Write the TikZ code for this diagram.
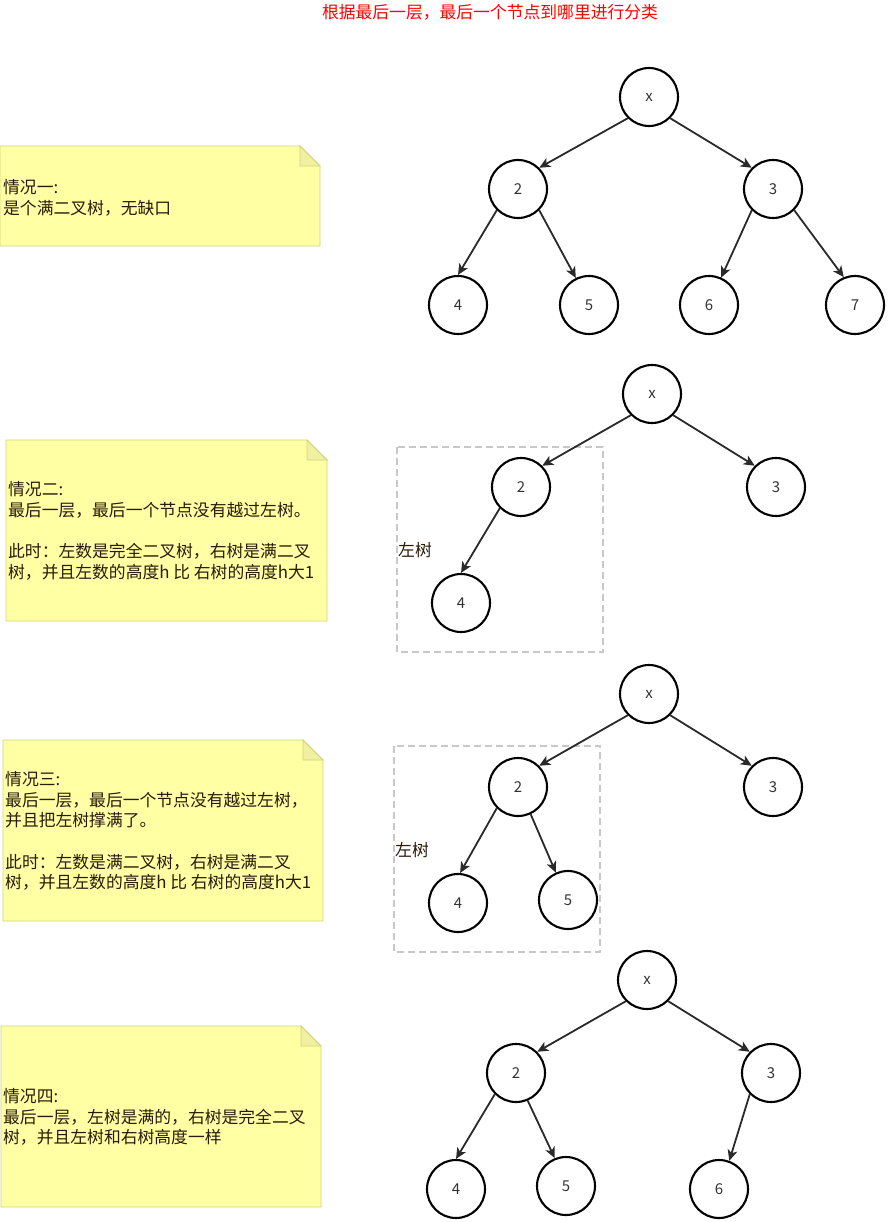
\documentclass[tikz,border=0pt]{standalone}
\usepackage{fontspec}
\setmainfont{Noto Sans CJK SC}
\usetikzlibrary{arrows.meta}

\definecolor{edgegray}{HTML}{2A2A2A}
\definecolor{labelgray}{HTML}{333333}
\definecolor{boxgray}{HTML}{C8C8C8}
\definecolor{notebg}{HTML}{FFFFA3}
\definecolor{noteline}{HTML}{D2D27E}
\definecolor{notefoldbg}{HTML}{F0F0A0}
\definecolor{notetextcol}{HTML}{2A1A0A}
\definecolor{titlered}{HTML}{FF0000}

% sticky note with a folded top-right corner: x1, y1, x2, y2
\newcommand\stickynote[4]{%
  \draw[fill=notebg, draw=noteline, line width=0.9pt]
    (#1,#2) -- (#3-20,#2) -- (#3,#2+20) -- (#3,#4) -- (#1,#4) -- cycle;
  \draw[fill=notefoldbg, draw=noteline, line width=0.9pt]
    (#3-20,#2) -- (#3-20,#2+20) -- (#3,#2+20) -- cycle;
}

\begin{document}
\begin{tikzpicture}[x=1pt, y=-1pt,
  tnode/.style={circle, draw=black, line width=2.1pt, minimum size=58pt,
    inner sep=0pt, font=\fontsize{15}{15}\selectfont, text=labelgray},
  link/.style={draw=edgegray, line width=1.8pt,
    -{Stealth[length=11pt, width=10pt, inset=3pt]}},
  subtree/.style={draw=boxgray, line width=2pt, dash pattern=on 7pt off 4pt},
  notetext/.style={anchor=west, align=left, inner sep=0pt,
    font=\fontsize{16.8}{20.7}\selectfont, text=notetextcol},
  boxlabel/.style={anchor=west, inner sep=0pt,
    font=\fontsize{16.8}{20.7}\selectfont, text=notetextcol}]

\useasboundingbox (0,0) rectangle (887,1222);

% heading
\node[font=\fontsize{16.8}{20}\selectfont, text=titlered, inner sep=0pt]
  (title) at (490,12) {根据最后一层，最后一个节点到哪里进行分类};

% ---------- case 1: full tree ----------
\stickynote{0}{146}{320}{246}
\node[notetext] (t1) at (3,198) {情况一:\\是个满二叉树，无缺口};

\node[tnode] (ax) at (649,97) {x};
\node[tnode] (a2) at (518,189) {2};
\node[tnode] (a3) at (773,189) {3};
\node[tnode] (a4) at (458,305) {4};
\node[tnode] (a5) at (589,305) {5};
\node[tnode] (a6) at (709,305) {6};
\node[tnode] (a7) at (855,305) {7};
\draw[link] (ax.225) -- (a2.45);
\draw[link] (ax.-45) -- (a3.135);
\draw[link] (a2.225) -- (a4.90);
\draw[link] (a2.-45) -- (a5.116);
\draw[link] (a3.225) -- (a6.66);
\draw[link] (a3.-45) -- (a7.112);

% ---------- case 2 ----------
\stickynote{6}{440}{327}{621}
\node[notetext] (t2) at (8,531)
  {情况二:\\最后一层，最后一个节点没有越过左树。\\[20.7pt]此时：左数是完全二叉树，右树是满二叉\\树，并且左数的高度h 比 右树的高度h大1};

\draw[subtree] (397,447) rectangle (603,652);
\node[boxlabel] (l2) at (398,550) {左树};

\node[tnode] (bx) at (652,394) {x};
\node[tnode] (b2) at (521,487) {2};
\node[tnode] (b3) at (776,487) {3};
\node[tnode] (b4) at (461,603) {4};
\draw[link] (bx.225) -- (b2.45);
\draw[link] (bx.-45) -- (b3.135);
\draw[link] (b2.225) -- (b4.90);

% ---------- case 3 ----------
\stickynote{3}{740}{323}{921}
\node[notetext] (t3) at (5,831)
  {情况三:\\最后一层，最后一个节点没有越过左树，\\并且把左树撑满了。\\[20.7pt]此时：左数是满二叉树，右树是满二叉\\树，并且左数的高度h 比 右树的高度h大1};

\draw[subtree] (394,746) rectangle (600,952);
\node[boxlabel] (l3) at (395,850) {左树};

\node[tnode] (cx) at (649,694) {x};
\node[tnode] (c2) at (518,787) {2};
\node[tnode] (c3) at (773,787) {3};
\node[tnode] (c4) at (458,903) {4};
\node[tnode] (c5) at (568,900) {5};
\draw[link] (cx.225) -- (c2.45);
\draw[link] (cx.-45) -- (c3.135);
\draw[link] (c2.225) -- (c4.86);
\draw[link] (c2.295) -- (c5.114);

% ---------- case 4 ----------
\stickynote{1}{1026}{321}{1207}
\node[notetext] (t4) at (3,1117)
  {情况四:\\最后一层，左树是满的，右树是完全二叉\\树，并且左树和右树高度一样};

\node[tnode] (dx) at (647,980) {x};
\node[tnode] (d2) at (516,1073) {2};
\node[tnode] (d3) at (771,1073) {3};
\node[tnode] (d4) at (456,1189) {4};
\node[tnode] (d5) at (566,1186) {5};
\node[tnode] (d6) at (719,1189) {6};
\draw[link] (dx.225) -- (d2.45);
\draw[link] (dx.-45) -- (d3.135);
\draw[link] (d2.225) -- (d4.90);
\draw[link] (d2.293) -- (d5.112);
\draw[link] (d3.225) -- (d6.70);

\end{tikzpicture}
\end{document}
